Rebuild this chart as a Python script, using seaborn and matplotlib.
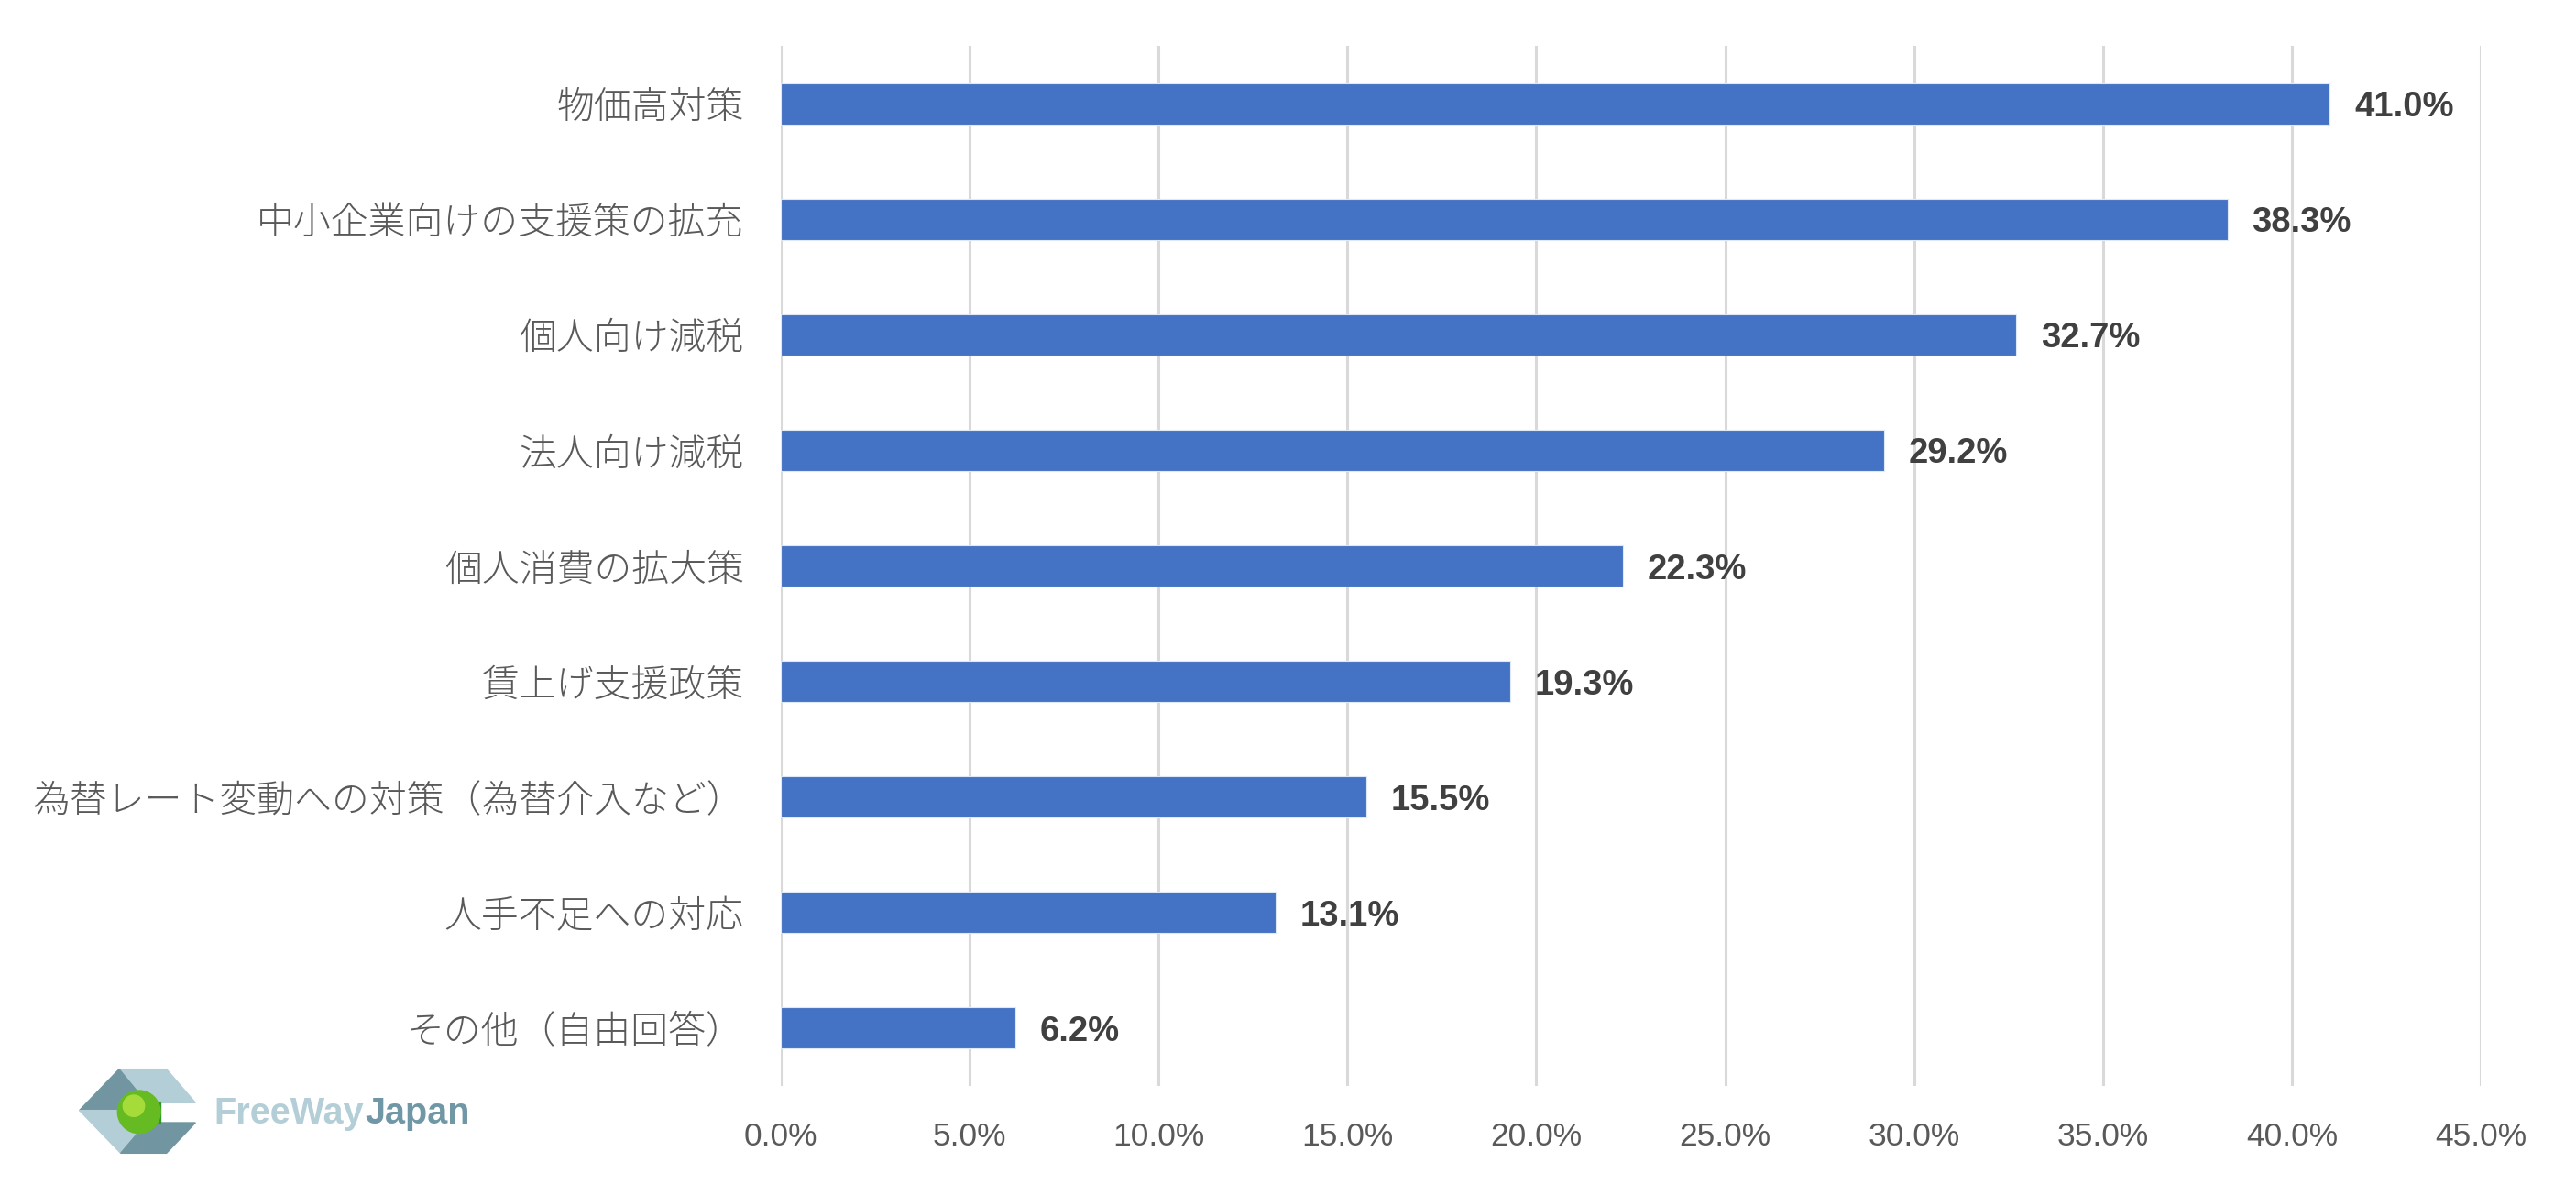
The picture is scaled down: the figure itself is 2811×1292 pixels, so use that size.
import matplotlib
matplotlib.use("Agg")
import matplotlib.pyplot as plt
import seaborn as sns
from matplotlib.patches import Polygon, Circle
from matplotlib.ticker import FuncFormatter

# データ
categories = ['物価高対策', '中小企業向けの支援策の拡充', '個人向け減税', '法人向け減税',
              '個人消費の拡大策', '賃上げ支援政策', '為替レート変動への対策（為替介入など）',
              '人手不足への対応', 'その他（自由回答）']
values = [41.0, 38.3, 32.7, 29.2, 22.3, 19.3, 15.5, 13.1, 6.2]
x_ticks = [0, 5, 10, 15, 20, 25, 30, 35, 40, 45]

sns.set_style("white")
plt.rcParams['font.family'] = ['Liberation Sans', 'Noto Sans CJK JP', 'DejaVu Sans']

W, H = 2811, 1292
fig = plt.figure(figsize=(W / 100, H / 100), dpi=100)
ax = fig.add_axes([852 / W, 1 - 1185 / H, (2707 - 852) / W, (1185 - 50) / H])

sns.barplot(x=values, y=categories, orient='h', color='#4472C4', saturation=1,
            width=0.356, edgecolor='#dfe8f6', linewidth=0.8, ax=ax, zorder=3)

ax.set_xlim(0, 45)
ax.set_ylim(len(categories) - 0.5, -0.5)
ax.set_xticks(x_ticks)
ax.xaxis.set_major_formatter(FuncFormatter(lambda v, p: f'{v:.1f}%'))
ax.grid(axis='x', color='#d9d9d9', linewidth=2.2, zorder=0)
ax.grid(axis='y', visible=False)
for s in ax.spines.values():
    s.set_visible(False)
ax.set_xlabel('')
ax.set_ylabel('')
ax.tick_params(axis='x', length=0, pad=28, labelsize=25.5, labelcolor='#595959')
ax.tick_params(axis='y', length=0, pad=29, labelcolor='#595959')
for t in ax.get_yticklabels():
    t.set_fontfamily(['Noto Sans CJK JP', 'DejaVu Sans'])
    t.set_fontsize(29.4)
    t.set_fontweight('light')

# 数値ラベル
for i, v in enumerate(values):
    ax.text(v + 0.65, i, f'{v:.1f}%', va='center_baseline', ha='left', fontsize=27.5,
            fontweight='bold', color='#404040', zorder=4)

# ロゴ
lax = fig.add_axes([60 / W, 1 - 1292 / H, 500 / W, 152 / H])
lax.set_xlim(0, 1500)
lax.set_ylim(456, 0)
lax.axis('off')
light = '#b3ced6'
dark = '#7196a1'
lax.add_patch(Polygon([(210, 80), (365, 80), (460, 190), (300, 190)], color=light))
lax.add_patch(Polygon([(80, 215), (210, 80), (300, 190), (220, 215)], color=dark))
lax.add_patch(Polygon([(80, 215), (220, 215), (300, 255), (215, 355)], color=light))
lax.add_patch(Polygon([(215, 355), (365, 355), (460, 255), (300, 255)], color=dark))
lax.add_patch(Polygon([(300, 190), (345, 190), (345, 255), (300, 255)], color='#2f9a2a'))
lax.add_patch(Circle((275, 220), 70, color='#66bb22'))
lax.add_patch(Circle((258, 200), 35, color='#a6dc3a'))
t1 = lax.text(520, 225, 'FreeWay', fontsize=28.5, fontweight='bold', color='#b3ced6',
              va='center', ha='left')
fig.canvas.draw()
bb = t1.get_window_extent().transformed(lax.transData.inverted())
lax.text(bb.x1 + 4, 225, 'Japan', fontsize=28.5, fontweight='bold', color='#6f97a5',
         va='center', ha='left')

fig.savefig('out.png', dpi=100, facecolor='white')
